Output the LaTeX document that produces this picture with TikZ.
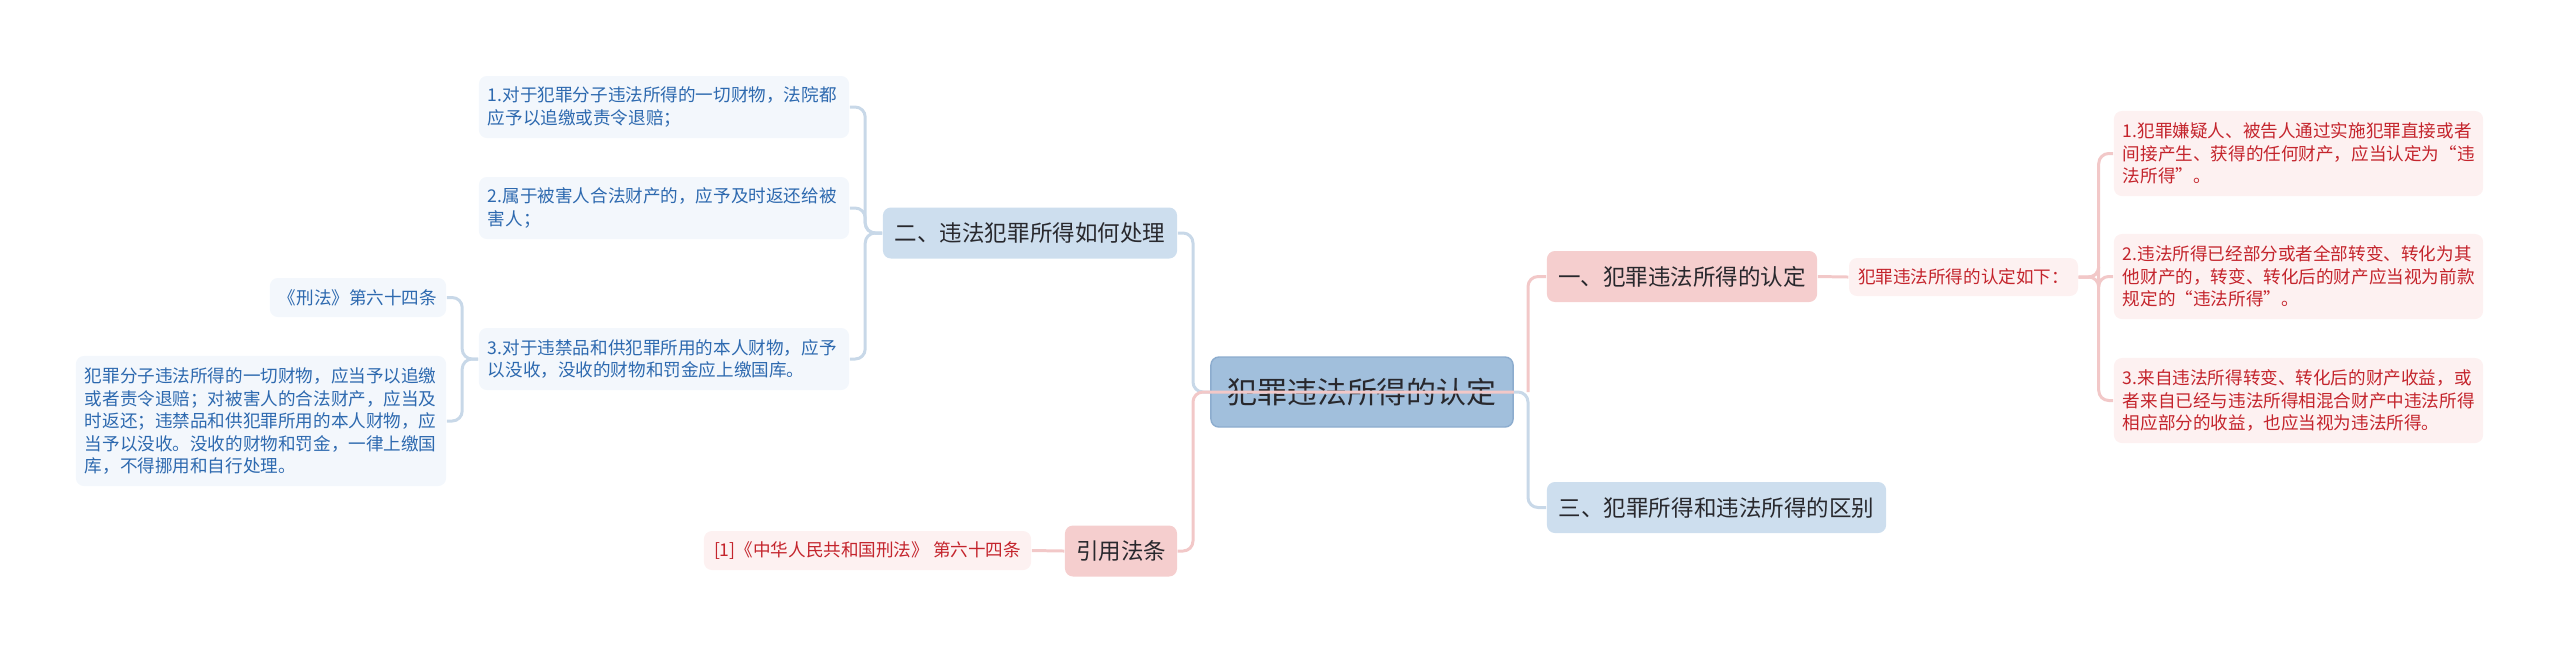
\documentclass[tikz,border=0pt]{standalone}
\usepackage{fontspec}
\setmainfont{Noto Sans CJK SC}
\usepackage{xcolor}
\usepackage{tikz}
\usetikzlibrary{positioning, calc}
\definecolor{textdark}{RGB}{40,40,45}
\definecolor{rootfill}{RGB}{161,191,220}
\definecolor{rootedge}{RGB}{140,172,206}
\definecolor{topicblue}{RGB}{205,222,238}
\definecolor{topicpink}{RGB}{245,206,206}
\definecolor{leafblue}{RGB}{243,247,252}
\definecolor{leafpink}{RGB}{253,241,241}
\definecolor{inkblue}{RGB}{45,105,175}
\definecolor{inkred}{RGB}{196,36,44}
\definecolor{lineblue}{RGB}{200,216,232}
\definecolor{linepink}{RGB}{242,200,200}
\tikzset{
  rootbox/.style={rectangle, fill=rootfill, draw=rootedge, line width=0.4pt,
    rounded corners=0.08cm, text=textdark, inner sep=0pt,
    font=\fontsize{8.5}{10}\selectfont, minimum width=3.02cm, minimum height=0.7cm},
  bluetopic/.style={rectangle, fill=topicblue, rounded corners=0.08cm,
    text=textdark, inner sep=0pt, font=\fontsize{6.4}{7.6}\selectfont,
    minimum height=0.51cm},
  pinktopic/.style={rectangle, fill=topicpink, rounded corners=0.08cm,
    text=textdark, inner sep=0pt, font=\fontsize{6.4}{7.6}\selectfont,
    minimum height=0.51cm},
  blueleaf/.style={rectangle, fill=leafblue, rounded corners=0.08cm,
    text=inkblue, align=left, inner xsep=0.09cm, inner ysep=0pt,
    font=\fontsize{5}{6.4}\selectfont},
  pinkleaf/.style={rectangle, fill=leafpink, rounded corners=0.08cm,
    text=inkred, align=left, inner xsep=0.09cm, inner ysep=0pt,
    font=\fontsize{5}{6.4}\selectfont},
  bline/.style={draw=lineblue, line width=0.85pt, rounded corners=0.1cm},
  pline/.style={draw=linepink, line width=0.85pt, rounded corners=0.1cm}
}

\begin{document}
\begin{tikzpicture}[x=0.01cm, y=-0.01cm]
  \useasboundingbox (0,0) rectangle (2560,653);

  % Root
  \node[rootbox] (root) at (1362,392) {犯罪违法所得的认定};
  \coordinate (lfork) at (1193,392);
  \coordinate (rfork) at (1528,392);

  % Main topics
  \node[bluetopic, minimum width=2.94cm] (two) at (1030,233) {二、违法犯罪所得如何处理};
  \node[pinktopic, minimum width=1.12cm] (cite) at (1121,551) {引用法条};
  \node[pinktopic, minimum width=2.70cm] (one) at (1682,276.5) {一、犯罪违法所得的认定};
  \node[bluetopic, minimum width=3.39cm] (three) at (1716.5,507.5) {三、犯罪所得和违法所得的区别};

  % Left leaves
  \node[blueleaf, text width=3.52cm, minimum height=0.62cm] (b1) at (664,107)
    {1.对于犯罪分子违法所得的一切财物，法院都\\应予以追缴或责令退赔；};
  \node[blueleaf, text width=3.52cm, minimum height=0.62cm] (b2) at (664,208)
    {2.属于被害人合法财产的，应予及时返还给被\\害人；};
  \node[blueleaf, text width=3.52cm, minimum height=0.62cm] (b3) at (664,359)
    {3.对于违禁品和供犯罪所用的本人财物，应予\\以没收，没收的财物和罚金应上缴国库。};
  \node[blueleaf, minimum width=1.76cm, minimum height=0.39cm] (law) at (358,297.5)
    {《刑法》第六十四条};
  \node[blueleaf, text width=3.52cm, minimum height=1.30cm] (lawtext) at (261,421)
    {犯罪分子违法所得的一切财物，应当予以追缴\\或者责令退赔；对被害人的合法财产，应当及\\时返还；违禁品和供犯罪所用的本人财物，应\\当予以没收。没收的财物和罚金，一律上缴国\\库，不得挪用和自行处理。};
  \node[pinkleaf, minimum width=3.27cm, minimum height=0.39cm] (ref) at (867.5,550.5)
    {[1]《中华人民共和国刑法》 第六十四条};

  % Right leaves
  \node[pinkleaf, minimum width=2.27cm, minimum height=0.38cm] (sub) at (1963.5,277)
    {犯罪违法所得的认定如下：};
  \node[pinkleaf, text width=3.51cm, minimum height=0.85cm] (r1) at (2298.5,153.5)
    {1.犯罪嫌疑人、被告人通过实施犯罪直接或者\\间接产生、获得的任何财产，应当认定为“违\\法所得”。};
  \node[pinkleaf, text width=3.51cm, minimum height=0.85cm] (r2) at (2298.5,276.5)
    {2.违法所得已经部分或者全部转变、转化为其\\他财产的，转变、转化后的财产应当视为前款\\规定的“违法所得”。};
  \node[pinkleaf, text width=3.51cm, minimum height=0.85cm] (r3) at (2298.5,400.5)
    {3.来自违法所得转变、转化后的财产收益，或\\者来自已经与违法所得相混合财产中违法所得\\相应部分的收益，也应当视为违法所得。};

  % Root branches
  \draw[bline] (root.west) -- (lfork) |- (two.east);
  \draw[pline] (root.east) -- (lfork) |- (cite.east);
  \draw[pline] (rfork) |- (one.west);
  \draw[bline] (root.east) -- (rfork) |- (three.west);

  % Left branches
  \draw[bline] (two.west) -- ++(-17,0) |- (b1.east);
  \draw[bline] (two.west) -- ++(-17,0) |- (b2.east);
  \draw[bline] (two.west) -- ++(-17,0) |- (b3.east);
  \draw[bline] (b3.west) -- ++(-16,0) |- (law.east);
  \draw[bline] (b3.west) -- ++(-16,0) |- (lawtext.east);
  \draw[pline] (cite.west) -- (ref.east);

  % Right branches
  \draw[pline] (one.east) -- (sub.west);
  \draw[pline] (sub.east) -- ++(20,0) |- (r1.west);
  \draw[pline] (sub.east) -- ++(20,0) |- (r2.west);
  \draw[pline] (sub.east) -- ++(20,0) |- (r3.west);
\end{tikzpicture}
\end{document}
